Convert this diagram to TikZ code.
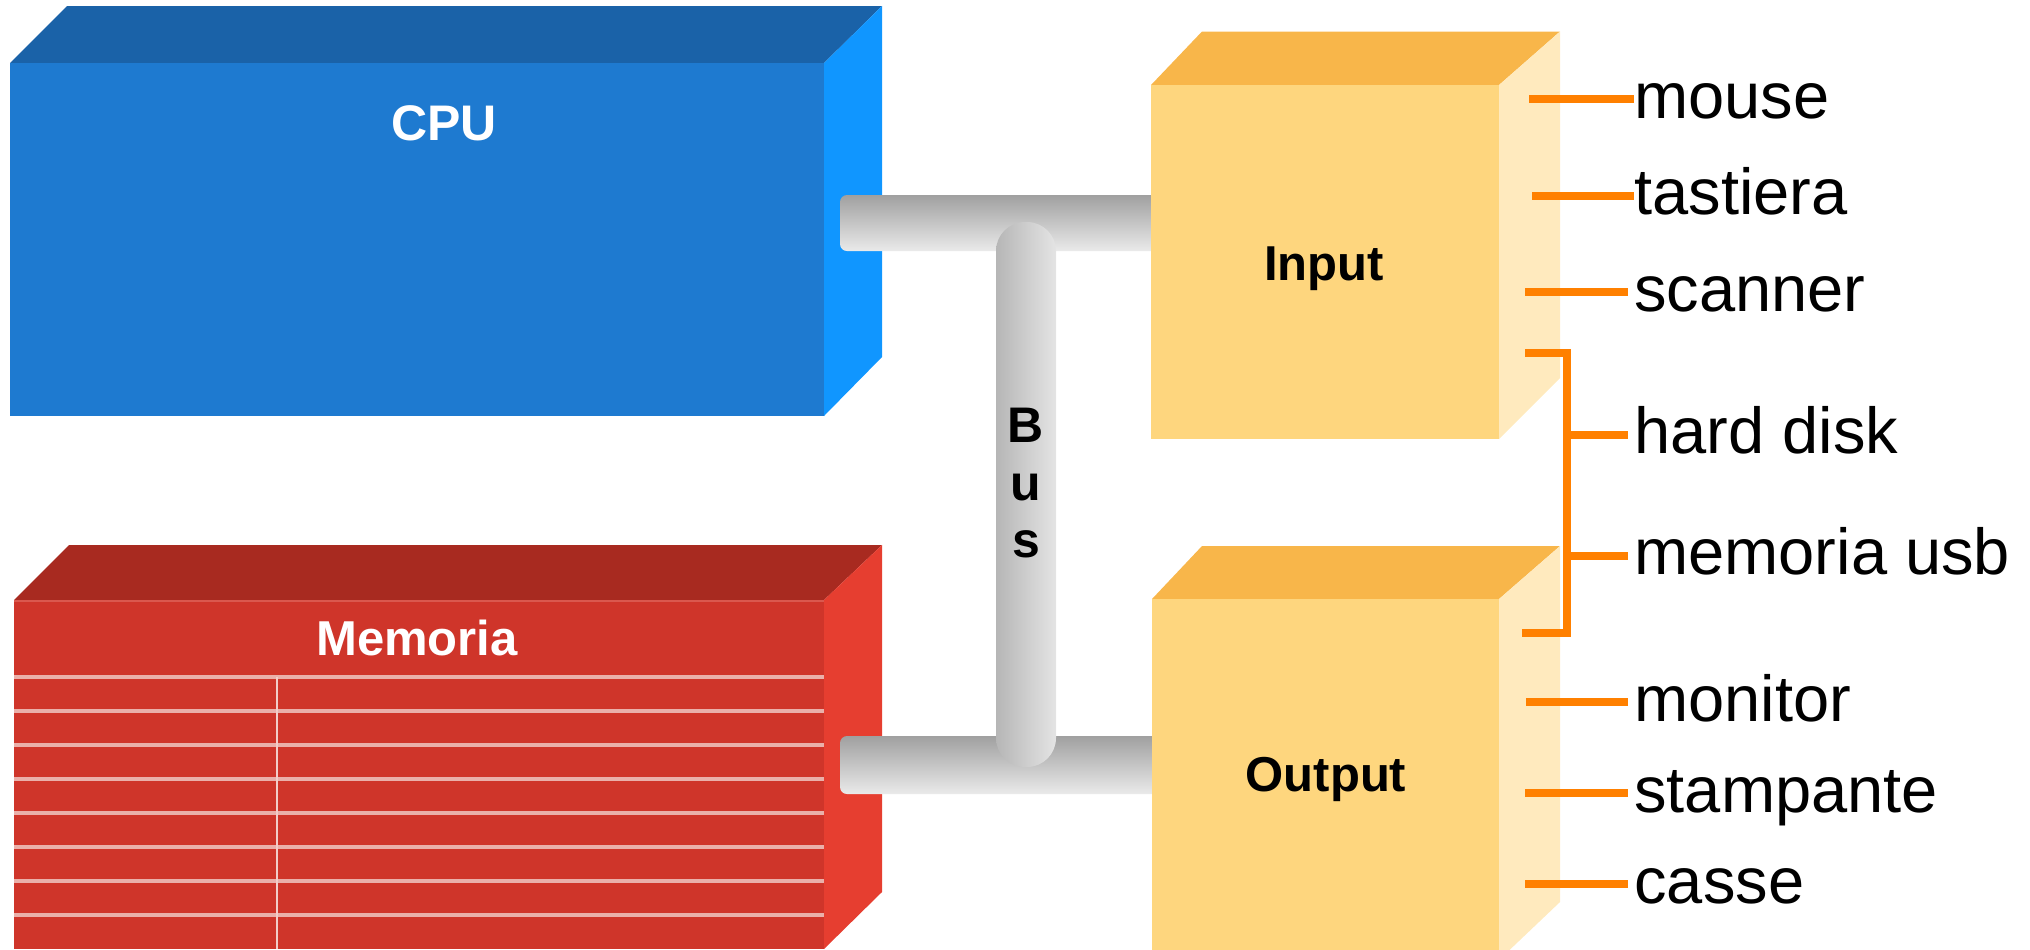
\documentclass[tikz,border=0pt]{standalone}
\usepackage{fontspec}
\setmainfont{Liberation Sans}
\definecolor{cpuFront}{RGB}{30,122,208}
\definecolor{cpuTop}{RGB}{26,98,168}
\definecolor{cpuSide}{RGB}{16,150,255}
\definecolor{memFront}{RGB}{207,53,42}
\definecolor{memTop}{RGB}{168,42,32}
\definecolor{memSide}{RGB}{230,62,48}
\definecolor{memStripe}{RGB}{234,176,170}
\definecolor{memRule}{RGB}{242,205,200}
\definecolor{memEdge}{RGB}{218,88,78}
\definecolor{ioFront}{RGB}{254,214,126}
\definecolor{ioTop}{RGB}{248,182,74}
\definecolor{ioSide}{RGB}{255,234,190}
\definecolor{tickOrange}{RGB}{255,128,0}
\definecolor{barDark}{RGB}{160,160,160}
\definecolor{barMid}{RGB}{214,214,214}
\definecolor{barLight}{RGB}{234,234,234}
\definecolor{vbarDark}{RGB}{182,182,182}
\definecolor{vbarMid}{RGB}{215,215,215}
\definecolor{vbarLight}{RGB}{228,228,228}
\begin{document}
\begin{tikzpicture}[x=0.5pt,y=-0.5pt,
  boxlabel/.style={inner sep=0pt,anchor=base,font=\bfseries\fontsize{24.5}{29}\selectfont},
  buslabel/.style={inner sep=0pt,anchor=base,font=\bfseries\fontsize{25}{30}\selectfont,text=black},
  devlabel/.style={inner sep=0pt,anchor=base west,font=\fontsize{32.5}{39}\selectfont,text=black},
  tick/.style={draw=tickOrange,line width=4pt},
  hbar/.style={top color=barDark,middle color=barMid,bottom color=barLight,rounded corners=3.5pt},
  vbar/.style={left color=vbarDark,middle color=vbarMid,right color=vbarLight,rounded corners=14.5pt}]
\useasboundingbox (0,0) rectangle (2030,949);
\clip (0,0) rectangle (2030,949);

% CPU block
\fill[cpuTop] (10,63) -- (67,6) -- (882,6) -- (824,63) -- cycle;
\fill[cpuSide] (824,63) -- (882,6) -- (882,357) -- (824,416) -- cycle;
\fill[cpuFront] (10,63) rectangle (824,416);
\node[boxlabel,text=white,font=\bfseries\fontsize{25}{30}\selectfont] (cpu) at (444,140) {CPU};

% Memory block with its table rows
\fill[memTop] (14,600) -- (69,545) -- (882,545) -- (824,600) -- cycle;
\fill[memSide] (824,600) -- (882,545) -- (882,892) -- (824,949) -- cycle;
\fill[memFront] (14,600) rectangle (824,949);
\draw[memEdge,line width=1.2pt] (14,601) -- (824,601);
\foreach \k in {0,...,7}
  \draw[memStripe,line width=2.4pt] (14,677+34*\k) -- (824,677+34*\k);
\draw[memRule,line width=1.2pt] (277,677) -- (277,949);
\node[boxlabel,text=white] (mem) at (417,655) {Memoria};

% Bus bars
\shade[hbar] (840,195) rectangle (1175,251);
\shade[hbar] (840,736) rectangle (1175,794);
\shade[vbar] (996,222) rectangle (1056,767);
\node[buslabel] (busB) at (1026,442) {B};
\node[buslabel] (busU) at (1026,500) {u};
\node[buslabel] (busS) at (1026,557) {s};

% Input block
\fill[ioTop] (1151,85) -- (1202,31.5) -- (1560,31.5) -- (1499,85) -- cycle;
\fill[ioSide] (1499,85) -- (1560,31.5) -- (1560,378) -- (1499,439) -- cycle;
\fill[ioFront] (1151,85) rectangle (1499,439);
\node[boxlabel,text=black] (input) at (1324,280) {Input};

% Output block
\fill[ioTop] (1152,599) -- (1202,546) -- (1560,546) -- (1499,599) -- cycle;
\fill[ioSide] (1499,599) -- (1560,546) -- (1560,902) -- (1499,960) -- cycle;
\fill[ioFront] (1152,599) rectangle (1499,960);
\node[boxlabel,text=black] (output) at (1326,791) {Output};

% Device labels
\node[devlabel] (mouse) at (1634,118) {mouse};
\node[devlabel] (tastiera) at (1634,214.5) {tastiera};
\node[devlabel] (scanner) at (1634,311) {scanner};
\node[devlabel] (hdd) at (1634,453.5) {hard disk};
\node[devlabel] (usb) at (1634,574.5) {memoria usb};
\node[devlabel] (monitor) at (1634,721) {monitor};
\node[devlabel] (stampante) at (1634,812) {stampante};
\node[devlabel] (casse) at (1634,903) {casse};

% Connector stubs
\coordinate (mouseL) at (1529,98.7);
\coordinate (tastieraL) at (1532,195.5);
\coordinate (scannerL) at (1525,291.8);
\coordinate (monitorL) at (1526,702);
\coordinate (stampanteL) at (1525,793);
\coordinate (casseL) at (1525,884);
\draw[tick] (mouseL) -- (mouseL -| mouse.west);
\draw[tick] (tastieraL) -- (tastieraL -| tastiera.west);
\draw[tick] (scannerL) -- ([xshift=-3pt]scannerL -| scanner.west);
\draw[tick] (monitorL) -- ([xshift=-3pt]monitorL -| monitor.west);
\draw[tick] (stampanteL) -- ([xshift=-3pt]stampanteL -| stampante.west);
\draw[tick] (casseL) -- ([xshift=-3pt]casseL -| casse.west);

% Bracket shared by the storage devices
\coordinate (brTop) at (1525,353);
\coordinate (brBot) at (1522,632.6);
\coordinate (brSpine) at (1567,353);
\coordinate (hddL) at (1567,434.6);
\coordinate (usbL) at (1567,555.7);
\draw[tick,line join=miter] (brTop) -- (brSpine) -- (brSpine |- brBot) -- (brBot);
\draw[tick] (hddL) -- ([xshift=-3pt]hddL -| hdd.west);
\draw[tick] (usbL) -- ([xshift=-3pt]usbL -| usb.west);
\end{tikzpicture}
\end{document}
